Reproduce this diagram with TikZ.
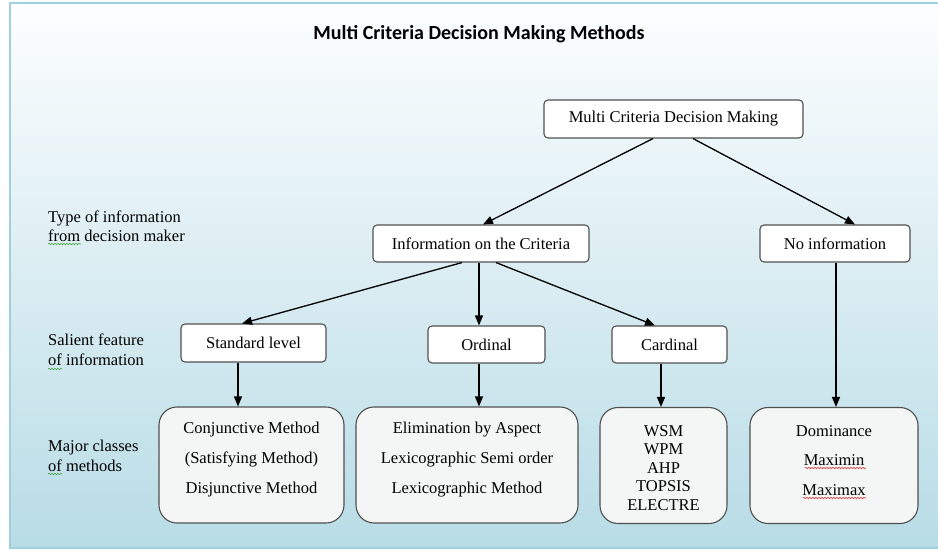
\documentclass[tikz,border=0pt]{standalone}
\usepackage{fontspec}
\setmainfont{Liberation Serif}
\newfontfamily\titlefont{Carlito}
\usetikzlibrary{arrows.meta,decorations.pathmorphing}

\definecolor{framecol}{RGB}{160,208,222}
\definecolor{bgtop}{RGB}{253,254,255}
\definecolor{bgmid}{RGB}{224,239,244}
\definecolor{bgbot}{RGB}{184,220,230}
\definecolor{boxline}{RGB}{80,80,80}
\definecolor{bigfill}{RGB}{244,245,245}
\definecolor{wavegreen}{RGB}{70,170,70}
\definecolor{wavered}{RGB}{225,60,60}

\tikzset{
  smallbox/.style={draw=boxline, line width=1.1pt, fill=white, rounded corners=4pt,
    inner sep=0pt, font=\fontsize{16.5}{19}\selectfont},
  bigbox/.style={draw=boxline, line width=1.1pt, fill=bigfill, rounded corners=18pt,
    inner sep=0pt, minimum height=116},
  bigtext/.style={align=center, inner sep=0pt, font=\fontsize{16.5}{30}\selectfont},
  lbl/.style={align=left, anchor=west, inner sep=0pt, font=\fontsize{16.5}{19.5}\selectfont},
  arr/.style={-{Triangle[length=10pt,width=8pt]}, line width=1.3pt, black},
  wavy/.style={decorate, decoration={snake, amplitude=0.8pt, segment length=3pt}, line width=0.6pt}
}

\begin{document}
\begin{tikzpicture}[x=1pt,y=-1pt]
\useasboundingbox (0,0) rectangle (938,550);
% panel
\shade[top color=bgtop, middle color=bgmid, bottom color=bgbot] (10,3) rectangle (945,548);
\draw[framecol, line width=1.2pt] (945,3) -- (10,3) -- (10,548) -- (945,548);

\node[inner sep=0pt, font=\titlefont\bfseries\fontsize{20}{24}\selectfont] (title) at (479,34) {Multi Criteria Decision Making Methods};

% left labels
\node[lbl] (type) at (48,226.5) {Type of information\\from decision maker};
\node[lbl] (salient) at (48,350) {Salient feature\\of information};
\node[lbl] (major) at (48,456) {Major classes\\of methods};

% tree
\node[smallbox, minimum width=259, minimum height=38] (mcdm) at (673.5,119) {Multi Criteria Decision Making};
\node[smallbox, minimum width=216, minimum height=37] (info) at (481,243.5) {Information on the Criteria};
\node[smallbox, minimum width=150, minimum height=37] (noinfo) at (835,243.5) {No information};
\node[smallbox, minimum width=145, minimum height=38] (std) at (253.5,343) {Standard level};
\node[smallbox, minimum width=117, minimum height=37] (ordinal) at (486.5,344.5) {Ordinal};
\node[smallbox, minimum width=115, minimum height=37] (cardinal) at (669.5,344.5) {Cardinal};

\node[bigbox, minimum width=185] (conj) at (251.5,465) {};
\node[bigbox, minimum width=222] (elim) at (467,465) {};
\node[bigbox, minimum width=127] (wsm) at (663.5,465.5) {};
\node[bigbox, minimum width=168] (domi) at (834,465.5) {};

\node[bigtext] (conjtxt) at ([yshift=5]conj.center) {Conjunctive Method\\(Satisfying Method)\\Disjunctive Method};
\node[bigtext] (elimtxt) at ([yshift=5]elim.center) {Elimination by Aspect\\Lexicographic Semi order\\Lexicographic Method};
\node[bigtext, font=\fontsize{16.5}{18.5}\selectfont] (wsmtxt) at ([yshift=-2.5]wsm.center) {WSM\\WPM\\AHP\\TOPSIS\\ELECTRE};
\node[bigtext, font=\fontsize{16.5}{29.5}\selectfont] (domitxt) at ([yshift=5]domi.center) {Dominance\\Maximin\\Maximax};

\draw[arr] ([xshift=-20.5]mcdm.south) -- ([xshift=2]info.north);
\draw[arr] ([xshift=19.5]mcdm.south) -- ([xshift=20]noinfo.north);
\draw[arr] ([xshift=-19]info.south) -- ([xshift=-11.5]std.north);
\draw[arr] ([xshift=-2]info.south) -- ([xshift=-7.5]ordinal.north);
\draw[arr] ([xshift=15]info.south) -- ([xshift=-14.5]cardinal.north);
\draw[arr] ([xshift=-15.5]std.south) -- ([xshift=-13.5]conj.north);
\draw[arr] ([xshift=-7.5]ordinal.south) -- ([xshift=12]elim.north);
\draw[arr] ([xshift=-8.5]cardinal.south) -- ([xshift=-2.5]wsm.north);
\draw[arr] ([xshift=1]noinfo.south) -- ([xshift=2]domi.north);

% spelling marks
\draw[wavy, wavegreen] (48,244) -- (81,244);
\draw[wavy, wavegreen] (48,369) -- (62,369);
\draw[wavy, wavegreen] (48,474) -- (62,474);
\draw[wavy, wavered] (805,468) -- (866,468);
\draw[wavy, wavered] (803,498) -- (866,498);
\end{tikzpicture}
\end{document}
